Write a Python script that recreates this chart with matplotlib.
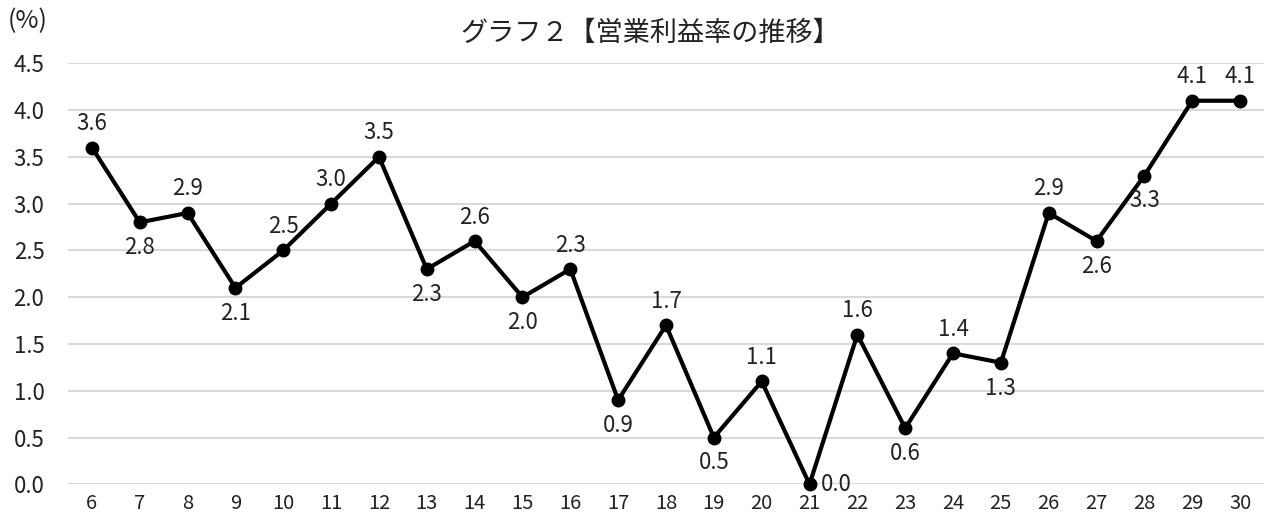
import numpy as np
import matplotlib
matplotlib.use('Agg')
import matplotlib.pyplot as plt

plt.rcParams['font.family'] = ['Noto Sans CJK JP', 'DejaVu Sans']

# データ
years = ['6', '7', '8', '9', '10', '11', '12', '13', '14', '15', '16', '17', '18',
         '19', '20', '21', '22', '23', '24', '25', '26', '27', '28', '29', '30']
rates = [3.6, 2.8, 2.9, 2.1, 2.5, 3.0, 3.5, 2.3, 2.6, 2.0, 2.3, 0.9, 1.7,
         0.5, 1.1, 0.0, 1.6, 0.6, 1.4, 1.3, 2.9, 2.6, 3.3, 4.1, 4.1]
# ラベル位置 (上 / 下 / 右)
label_pos = ['u', 'd', 'u', 'd', 'u', 'u', 'u', 'd', 'u', 'd', 'u', 'd', 'u',
             'd', 'u', 'r', 'u', 'd', 'u', 'd', 'u', 'd', 'd', 'u', 'u']
y_ticks = [0.0, 0.5, 1.0, 1.5, 2.0, 2.5, 3.0, 3.5, 4.0, 4.5]

fig = plt.figure(figsize=(12.67, 5.14), dpi=100)
ax = fig.add_axes([68 / 1267, 29.7 / 514, (1264 - 68) / 1267, 421 / 514])

x = np.arange(len(years))
ax.plot(x, rates, color='black', linewidth=3, marker='o', markersize=9, zorder=3,
        clip_on=False)

for i, v in enumerate(rates):
    p = label_pos[i]
    if p == 'u':
        ax.annotate(f'{v:.1f}', (x[i], v), xytext=(0, 9), textcoords='offset points',
                    ha='center', va='bottom', fontsize=16, color='#222222')
    elif p == 'd':
        ax.annotate(f'{v:.1f}', (x[i], v), xytext=(0, -10), textcoords='offset points',
                    ha='center', va='top', fontsize=16, color='#222222')
    else:
        ax.annotate(f'{v:.1f}', (x[i], v), xytext=(8, 0), textcoords='offset points',
                    ha='left', va='center', fontsize=16, color='#222222')

ax.set_xlim(-0.5, len(years) - 0.5)
ax.set_ylim(0, 4.5)
ax.set_xticks(x)
ax.set_xticklabels(years)
ax.set_yticks(y_ticks)
ax.set_yticklabels([f'{t:.1f}' for t in y_ticks])
ax.tick_params(axis='x', length=0, labelsize=14.5, pad=6, colors='#222222')
ax.tick_params(axis='y', length=0, labelsize=16, pad=17, colors='#222222')

ax.grid(axis='y', color='#d9d9d9', linewidth=1.5)
ax.set_axisbelow(True)
for s in ax.spines.values():
    s.set_visible(False)

fig.text(650 / 1267, 1 - 33 / 514, 'グラフ２【営業利益率の推移】', ha='center', va='center',
         fontsize=19.5, color='#222222')
fig.text(8 / 1267, 1 - 21 / 514, '(%)', ha='left', va='center', fontsize=18, color='#222222')

fig.savefig('out.png', dpi=100)
